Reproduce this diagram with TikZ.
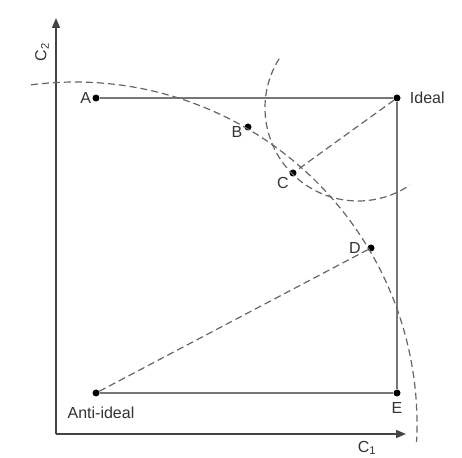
\documentclass[tikz,border=0pt]{standalone}
\usepackage{fontspec}
\setmainfont{Liberation Sans}
\usetikzlibrary{arrows.meta}
\definecolor{axiscol}{HTML}{444444}
\definecolor{boxcol}{HTML}{777777}
\definecolor{dashcol}{HTML}{666666}
\definecolor{textcol}{HTML}{333333}
\tikzset{
  dot/.style={circle,fill=black,inner sep=0pt,minimum size=7pt},
  lab/.style={text=textcol,font=\fontsize{16}{19}\selectfont,inner sep=1pt},
  axis/.style={draw=axiscol,line width=1.6pt,-{Triangle[length=10pt,width=8pt]}},
  side/.style={draw=boxcol,line width=1.3pt},
  guide/.style={draw=dashcol,line width=1.2pt,dash pattern=on 7pt off 4pt}
}
\begin{document}
\begin{tikzpicture}[x=1pt,y=1pt]
    \useasboundingbox (0,0) rectangle (462,457);
    % axes
    \coordinate (O) at (56,23);
    \coordinate (Ytip) at (56,439);
    \coordinate (Xtip) at (406,23);
    \draw [axis] (O) -- (Ytip);
    \draw [axis] (O) -- (Xtip);
    \node [lab,rotate=90] (c2) at (42,405) {C\textsubscript{2}};
    \node [lab] (c1) at (367,9) {C\textsubscript{1}};
    % points
    \node [dot] (A) at (96,359) {};
    \node [dot] (ideal) at (397,359) {};
    \node [dot] (anti) at (96,64) {};
    \node [dot] (E) at (397,64) {};
    \node [dot] (B) at (248,330) {};
    \node [dot] (C) at (293,284) {};
    \node [dot] (D) at (371,209) {};
    \node [lab,anchor=east] at (A.west) {A};
    \node [lab,anchor=west] at ([xshift=8pt]ideal.east) {Ideal};
    \node [lab] at (237,325) {B};
    \node [lab] at (283,274) {C};
    \node [lab] at (355,209) {D};
    \node [lab] at (397,49) {E};
    \node [lab] at (101,44) {Anti-ideal};
    % box
    \draw [side] (A) -- (ideal) -- (E) -- (anti) -- cycle;
    % dashed lines and arcs
    \draw [guide] (ideal) -- (C);
    \draw [guide] (anti) -- (D);
    \draw [guide] (75,33) ++(97.4:342) arc [start angle=97.4,end angle=-3,radius=342];
    \draw [guide] (358,349) ++(148:93) arc [start angle=148,end angle=304,radius=93];
\end{tikzpicture}
\end{document}
